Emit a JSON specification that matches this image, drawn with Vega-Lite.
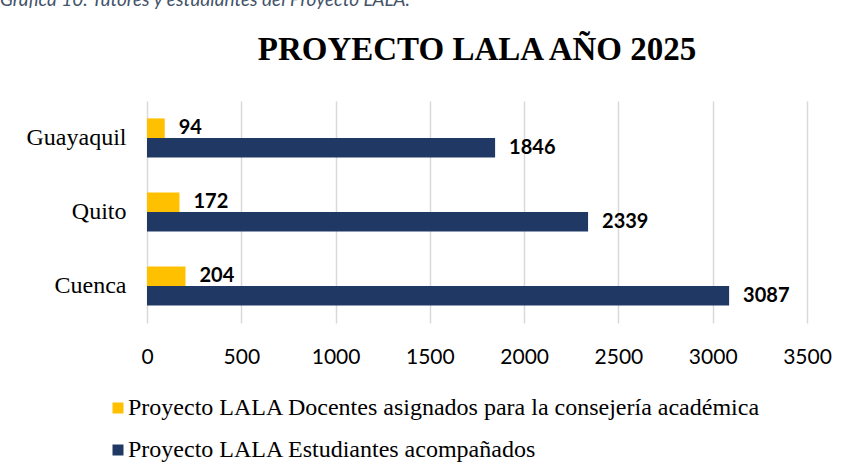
{
  "$schema": "https://vega.github.io/schema/vega-lite/v6.json",
  "background": "white",
  "padding": {"left": 0, "top": -9, "right": 0, "bottom": 0},
  "title": {
    "text": "Gráfica 10. Tutores y estudiantes del Proyecto LALA.",
    "anchor": "start",
    "font": "Lato",
    "fontStyle": "italic",
    "fontWeight": "normal",
    "fontSize": 19,
    "color": "#44546A",
    "offset": 24,
    "dx": -26
  },
  "data": {
    "values": [
      {"city": "Guayaquil", "serie": "Proyecto LALA Docentes asignados para la consejería académica", "value": 94},
      {"city": "Guayaquil", "serie": "Proyecto LALA Estudiantes acompañados", "value": 1846},
      {"city": "Quito", "serie": "Proyecto LALA Docentes asignados para la consejería académica", "value": 172},
      {"city": "Quito", "serie": "Proyecto LALA Estudiantes acompañados", "value": 2339},
      {"city": "Cuenca", "serie": "Proyecto LALA Docentes asignados para la consejería académica", "value": 204},
      {"city": "Cuenca", "serie": "Proyecto LALA Estudiantes acompañados", "value": 3087}
    ]
  },
  "vconcat": [
    {
      "width": 660,
      "height": 222,
      "title": {
        "text": "PROYECTO LALA AÑO 2025",
        "font": "Liberation Serif",
        "fontSize": 33,
        "fontWeight": "bold",
        "color": "black",
        "anchor": "middle",
        "offset": 34
      },
      "encoding": {
        "y": {
          "field": "city",
          "type": "nominal",
          "sort": ["Guayaquil", "Quito", "Cuenca"],
          "scale": {"paddingInner": 0.47, "paddingOuter": 0.235},
          "axis": {
            "title": null,
            "ticks": false,
            "domain": false,
            "labelFont": "Liberation Serif",
            "labelFontSize": 24,
            "labelColor": "black",
            "labelPadding": 21
          }
        },
        "yOffset": {
          "field": "serie",
          "type": "nominal",
          "sort": ["Proyecto LALA Docentes asignados para la consejería académica", "Proyecto LALA Estudiantes acompañados"],
          "scale": {"paddingInner": 0, "paddingOuter": 0}
        },
        "x": {
          "field": "value",
          "type": "quantitative",
          "scale": {"domain": [0, 3500], "nice": false},
          "axis": {
            "title": null,
            "format": "d",
            "values": [0, 500, 1000, 1500, 2000, 2500, 3000, 3500],
            "ticks": false,
            "domain": false,
            "grid": true,
            "gridColor": "#d9d9d9",
            "gridWidth": 1.5,
            "labelFont": "Lato",
            "labelFontSize": 21,
            "labelColor": "black",
            "labelPadding": 23,
            "labelFlush": false
          }
        }
      },
      "layer": [
        {
          "mark": {"type": "bar"},
          "encoding": {
            "color": {
              "field": "serie",
              "type": "nominal",
              "sort": ["Proyecto LALA Docentes asignados para la consejería académica", "Proyecto LALA Estudiantes acompañados"],
              "scale": {"range": ["#FFC000", "#203864"]},
              "legend": {
                "title": null,
                "orient": "none",
                "legendX": -41,
                "legendY": 295,
                "direction": "vertical",
                "symbolType": "square",
                "symbolSize": 121,
                "symbolStrokeWidth": 0,
                "labelFont": "Liberation Serif",
                "labelFontSize": 24,
                "labelColor": "black",
                "labelLimit": 0,
                "labelOffset": -2,
                "rowPadding": 18
              }
            }
          }
        },
        {
          "mark": {"type": "text", "align": "left", "baseline": "middle", "dx": 14, "font": "Lato", "fontWeight": "bold", "fontSize": 20, "color": "black"},
          "encoding": {
            "text": {"field": "value", "type": "quantitative", "format": "d"}
          }
        }
      ]
    }
  ],
  "config": {"view": {"stroke": null}}
}
